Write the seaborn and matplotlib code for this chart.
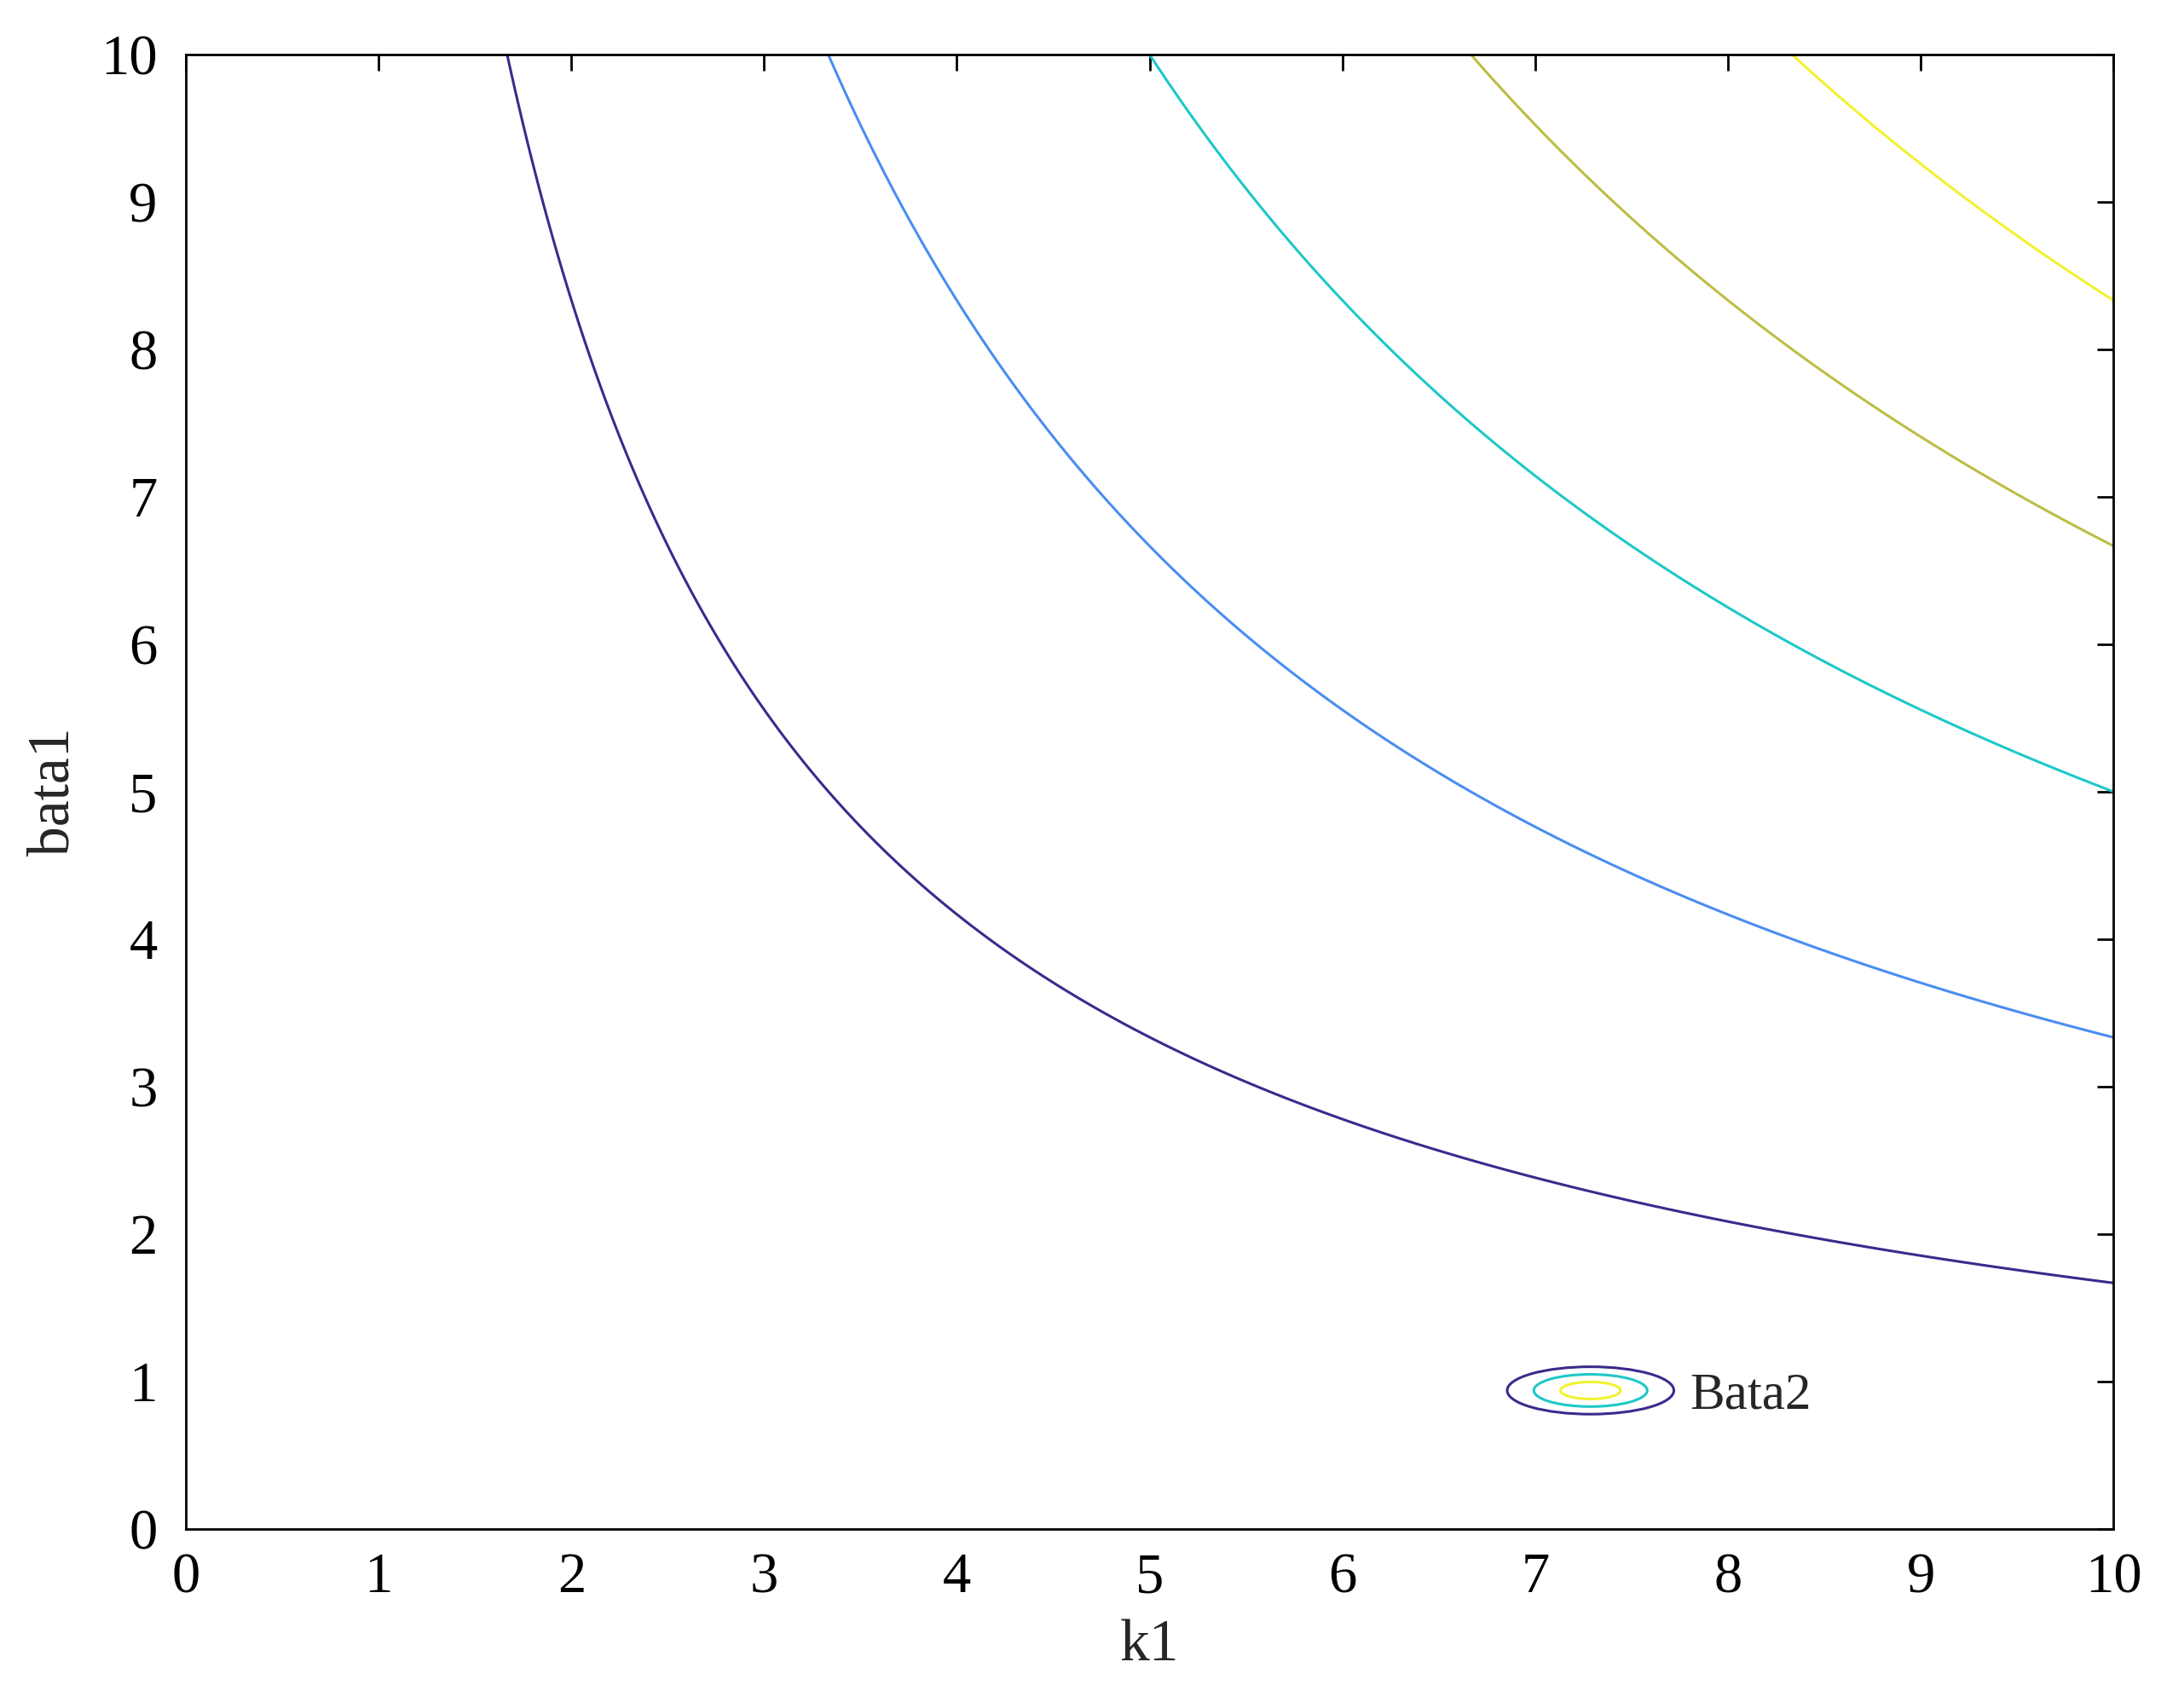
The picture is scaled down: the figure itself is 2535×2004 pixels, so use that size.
import numpy as np
import matplotlib
matplotlib.use("Agg")
import matplotlib.pyplot as plt
import seaborn as sns
from matplotlib.legend_handler import HandlerBase
from matplotlib.patches import Ellipse
from matplotlib.lines import Line2D

# contour levels of k1*bata1 and their colours
levels = [16.67, 33.33, 50.0, 66.67, 83.33]
level_colors = ["#3b2a8c", "#4a8df2", "#1ec8c8", "#bdbd45", "#f2f230"]
k1_range = [0, 10]
bata1_range = [0, 10]
ticks = list(range(0, 11))

sns.set_style("white")
plt.rcParams["font.family"] = ["Liberation Serif", "DejaVu Serif"]

k1 = np.linspace(k1_range[0], k1_range[1], 600)
b1 = np.linspace(bata1_range[0], bata1_range[1], 600)
K, B = np.meshgrid(k1, b1)
Z = K * B

fig = plt.figure(figsize=(12.675, 10.02), dpi=200)
ax = fig.add_axes([0.086, 0.105, 0.892, 0.863])
ax.contour(K, B, Z, levels=levels, colors=level_colors, linewidths=1.1)

ax.set_xlim(k1_range)
ax.set_ylim(bata1_range)
ax.set_xticks(ticks)
ax.set_yticks(ticks)
ax.tick_params(direction="in", top=True, right=True, labelsize=24, length=7,
               width=1, pad=10, colors="black")
ax.tick_params(axis="y", pad=12)
for s in ax.spines.values():
    s.set_color("black")
    s.set_linewidth(1)
ax.set_xlabel("k1", fontsize=25, labelpad=6)
ax.set_ylabel("bata1", fontsize=25, labelpad=8)


class ContourHandler(HandlerBase):
    def create_artists(self, legend, orig, xd, yd, w, h, fontsize, trans):
        cx, cy = xd + w / 2, yd + h / 2
        arts = []
        for f, c in zip([1.0, 0.68, 0.36], ["#3b2a8c", "#1ec8c8", "#f2f230"]):
            e = Ellipse((cx, cy), w * f, h * 1.3 * f, fill=False, edgecolor=c,
                        lw=1.1, transform=trans)
            arts.append(e)
        return arts


proxy = Line2D([], [])
ax.legend([proxy], ["Bata2"], handler_map={Line2D: ContourHandler()},
          loc="center right", bbox_to_anchor=(0.862, 0.09), frameon=False,
          fontsize=22, handlelength=3.2, handleheight=0.7, handletextpad=0.3,
          borderpad=0.2)

fig.savefig("out.png")
